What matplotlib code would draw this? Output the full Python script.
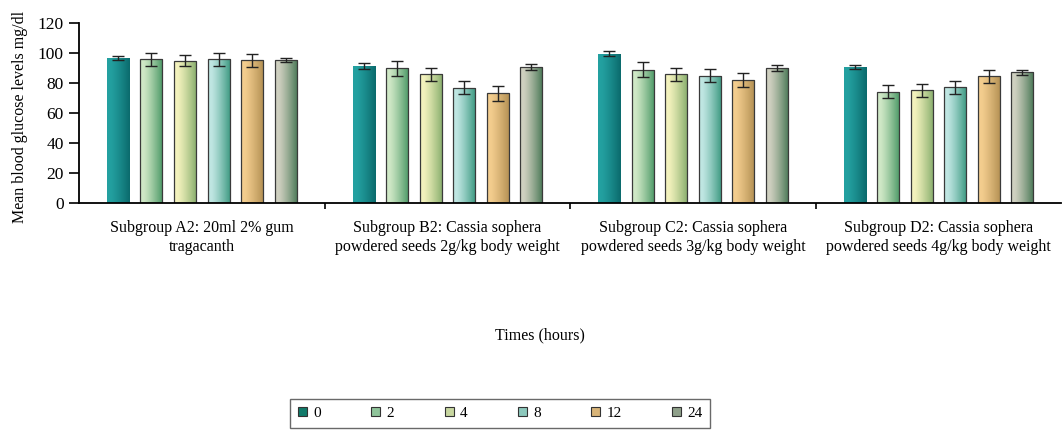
import matplotlib
matplotlib.use("Agg")
import matplotlib.pyplot as plt
import matplotlib.colors as mcolors
from matplotlib.patches import Patch
import numpy as np

plt.rcParams['font.family'] = ['Liberation Serif', 'DejaVu Serif']

groups = ["Subgroup A2: 20ml 2% gum\ntragacanth",
          "Subgroup B2: Cassia sophera\npowdered seeds 2g/kg body weight",
          "Subgroup C2: Cassia sophera\npowdered seeds 3g/kg body weight",
          "Subgroup D2: Cassia sophera\npowdered seeds 4g/kg body weight"]
hours = ["0", "2", "4", "8", "12", "24"]

# mean glucose (mg/dl) per time point, one value per subgroup
h0 = [96.5, 91.3, 99.5, 90.4]
h2 = [95.7, 89.7, 88.9, 74.3]
h4 = [94.8, 85.8, 85.7, 75.1]
h8 = [95.8, 76.8, 84.8, 77.0]
h12 = [95.0, 73.1, 82.0, 84.4]
h24 = [95.2, 90.5, 90.1, 87.0]

# error (+/-)
e0 = [1.5, 2.0, 1.8, 1.3]
e2 = [4.2, 4.9, 5.0, 4.6]
e4 = [3.6, 4.4, 4.4, 4.2]
e8 = [4.2, 4.4, 4.4, 4.6]
e12 = [4.3, 4.9, 4.9, 4.4]
e24 = [1.3, 1.8, 2.0, 1.5]

means = [h0, h2, h4, h8, h12, h24]
errs = [e0, e2, e4, e8, e12, e24]

# left (light) / right (dark) shading of each series
light = ["#23a0a0", "#cfe8c6", "#f3f2bd", "#bfe6e2", "#f3cd8e", "#cfd0c0"]
dark = ["#0b6a6c", "#4b9866", "#86ad6c", "#3b9880", "#b28f52", "#4a7856"]
legend_cols = ["#117a6a", "#8fc49a", "#c8d7a0", "#8cc8bc", "#d8b478", "#8fa08a"]

fig = plt.figure(figsize=(10.63, 4.32), dpi=100)
ax = fig.add_axes([0.0743, 0.530, 0.924, 0.417])

x = np.arange(len(groups))
pitch = 0.1365
width = 0.0896

for i in range(len(hours)):
    pos = x + (i - 2.5) * pitch
    edge = "none" if i == 0 else "#3a3a3a"
    bars = ax.bar(pos, means[i], width, color=light[i], edgecolor=edge,
                  linewidth=0.9, zorder=2)
    c1 = np.array(mcolors.to_rgb(light[i]))
    c2 = np.array(mcolors.to_rgb(dark[i]))
    t = np.linspace(0, 1, 64)
    t = np.clip((t - 0.15) / 0.85, 0, 1) ** 1.2
    grad = (c1[None, :] * (1 - t[:, None]) + c2[None, :] * t[:, None])[None, :, :]
    for b in bars:
        bx, by = b.get_x(), b.get_y()
        im = ax.imshow(grad, extent=[bx, bx + b.get_width(), by, by + b.get_height()],
                       aspect='auto', zorder=2.1, interpolation='bilinear')
        im.set_clip_path(b)
        if i > 0:
            b.set_facecolor("none")
            b.set_zorder(2.2)
    ax.errorbar(pos, means[i], yerr=errs[i], fmt='none', ecolor='#222222',
                elinewidth=1.0, capsize=4, capthick=1.0, zorder=3)

ax.set_xlim(-0.5, len(groups) - 0.5)
ax.set_ylim(0, 120)
ax.set_yticks(range(0, 121, 20))
ax.tick_params(axis='y', labelsize=12.5, length=7, width=1.2, pad=4)

ax.set_xticks(x[:-1] + 0.5)
ax.set_xticklabels([])
ax.tick_params(axis='x', which='major', length=4, width=1.2, direction='out')
ax.set_xticks(x, minor=True)
ax.set_xticklabels(groups, minor=True, fontsize=11.5, linespacing=1.25)
ax.tick_params(axis='x', which='minor', length=0, pad=12)

for side in ['top', 'right']:
    ax.spines[side].set_visible(False)
ax.spines['left'].set_linewidth(1.3)
ax.spines['bottom'].set_linewidth(1.3)

ax.set_ylabel("Mean blood glucose levels mg/dl", fontsize=11.5)
ax.yaxis.set_label_coords(-0.052, 0.48)
ax.set_xlabel("Times (hours)", fontsize=11.5)
ax.xaxis.set_label_coords(0.469, -0.69)

handles = [Patch(facecolor=legend_cols[i], edgecolor='#333333', linewidth=0.8)
           for i in range(len(hours))]
leg = ax.legend(handles, hours, loc='center', bbox_to_anchor=(0.429, -1.167),
                ncol=6, frameon=True, fancybox=False, fontsize=11,
                handlelength=0.6, handleheight=0.6, handletextpad=0.4,
                columnspacing=3.3, borderpad=0.5)
leg.get_frame().set_edgecolor('#444444')
leg.get_frame().set_linewidth(1.0)

fig.savefig("out.png", dpi=100)
